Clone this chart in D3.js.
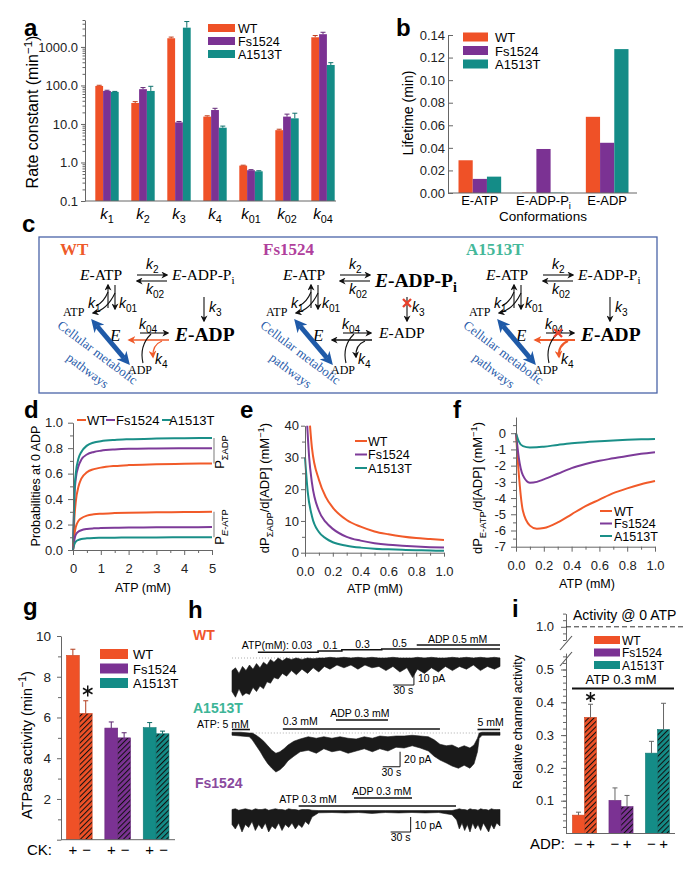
<!DOCTYPE html>
<html>
<head>
<meta charset="utf-8">
<script src="https://cdn.jsdelivr.net/npm/d3@7"></script>
<style>
  body { margin: 0; background: #fff; }
</style>
</head>
<body>
<script>
// ---------------- data ----------------
var strains = ["WT", "Fs1524", "A1513T"];

// a: rate constants (min^-1)
var rateKeys = ["1", "2", "3", "4", "01", "02", "04"];
var rateWT = [97, 35, 1680, 15.5, 0.83, 6.9, 1780];
var rateFs = [72, 80, 11, 23, 0.63, 15.5, 2140];
var rateA = [68, 72, 3160, 8, 0.59, 14, 340];
var rateErrWT = [4, 3, 120, 0.8, 0.02, 0.4, 200];
var rateErrFs = [3, 8, 0.6, 2.5, 0.02, 2.5, 260];
var rateErrA = [2, 23, 1400, 0.8, 0.02, 5, 50];

// b: lifetimes (min)
var conformations = ["E-ATP", "E-ADP-Pi", "E-ADP"];
var lifeWT = [0.029, 0.0003, 0.0675];
var lifeFs = [0.0125, 0.039, 0.0445];
var lifeA = [0.0145, 0.0003, 0.1275];

// d: probabilities at 0 ADP vs ATP (mM)
var atpD = [0, 0.05, 0.1, 0.2, 0.3, 0.5, 0.75, 1, 1.5, 2, 3, 4, 5];
var sumAdpWT = [0, 0.25, 0.38, 0.50, 0.56, 0.61, 0.635, 0.647, 0.66, 0.667, 0.673, 0.677, 0.68];
var sumAdpFs = [0, 0.42, 0.56, 0.66, 0.71, 0.75, 0.77, 0.78, 0.79, 0.795, 0.798, 0.8, 0.8];
var sumAdpA = [0, 0.45, 0.6, 0.72, 0.77, 0.82, 0.845, 0.855, 0.865, 0.87, 0.875, 0.878, 0.88];
var eAtpWT = [0, 0.12, 0.18, 0.23, 0.25, 0.27, 0.28, 0.285, 0.29, 0.293, 0.296, 0.298, 0.3];
var eAtpFs = [0, 0.08, 0.12, 0.145, 0.155, 0.165, 0.17, 0.172, 0.175, 0.177, 0.178, 0.179, 0.18];
var eAtpA = [0, 0.045, 0.065, 0.08, 0.087, 0.092, 0.095, 0.096, 0.097, 0.098, 0.099, 0.1, 0.1];

// e: dP(sum ADP)/d[ADP]
var atpEwt = [0.036, 0.05, 0.1, 0.15, 0.2, 0.3, 0.4, 0.5, 0.6, 0.7, 0.8, 0.9, 1.0];
var dSumWT = [40, 33, 23, 17.5, 14.2, 10.3, 8.2, 6.7, 5.8, 5.1, 4.6, 4.3, 4.0];
var atpEfs = [0.016, 0.03, 0.05, 0.1, 0.15, 0.2, 0.3, 0.4, 0.5, 0.6, 0.7, 0.8, 0.9, 1.0];
var dSumFs = [40, 30, 22, 13.2, 9.6, 7.5, 5.0, 3.8, 3.0, 2.5, 2.2, 1.95, 1.75, 1.6];
var atpEa = [0, 0.02, 0.05, 0.1, 0.15, 0.2, 0.3, 0.4, 0.5, 0.6, 0.7, 0.8, 0.9, 1.0];
var dSumA = [30, 19, 11.5, 6.5, 4.5, 3.3, 2.2, 1.6, 1.25, 1.05, 0.9, 0.78, 0.68, 0.6];

// f: dP(E-ATP)/d[ADP]
var atpF = [0, 0.02, 0.05, 0.1, 0.15, 0.2, 0.3, 0.4, 0.5, 0.6, 0.7, 0.8, 0.9, 1.0];
var dEatpWT = [0, -2.5, -4.8, -5.7, -5.9, -5.85, -5.5, -5.0, -4.5, -4.1, -3.7, -3.4, -3.15, -2.95];
var dEatpFs = [0, -1.5, -2.6, -3.05, -3.0, -2.85, -2.5, -2.15, -1.9, -1.7, -1.55, -1.4, -1.27, -1.17];
var dEatpA = [0, -0.5, -0.8, -0.88, -0.87, -0.83, -0.72, -0.62, -0.55, -0.5, -0.45, -0.41, -0.38, -0.35];

// g: ATPase activity (min^-1), CK + / CK -
var ckPlus = [9.05, 5.48, 5.5];
var ckPlusErr = [0.3, 0.3, 0.25];
var ckMinus = [6.2, 5.0, 5.2];
var ckMinusErr = [0.62, 0.25, 0.13];

// h: current traces, [time s, upper pA, lower pA] relative to the dotted level
var traceWT = [[0,-9,-24],[5,-7,-28],[10,-11,-22],[15,-6,-27],[20,-9,-25],[25,-5,-26],[30,-8,-21],[35,-4,-24],
  [40,-7,-20],[45,-3,-22],[50,-5,-17],[55,-1,-18],[60,-3,-14],[66,0,-15],[72,-2,-11],[78,0,-13],[85,-1,-9],
  [92,0,-12],[100,-1,-8],[108,0,-11],[116,-0.5,-7],[124,0,-10],[132,0,-6],[140,0.5,-8],[150,0,-5],[160,0.5,-7],
  [170,0,-5],[180,0.5,-8],[190,0,-5],[200,0.5,-7],[210,0,-6],[220,0,-9],[230,0.5,-6],[240,0,-10],[250,0,-7],
  [258,0,-14],[265,0.5,-8],[275,0,-11],[285,0.5,-7],[295,0,-10],[305,0,-6],[315,0.5,-9],[325,0,-6],[335,0.5,-8],
  [345,0,-5],[355,0.5,-9],[365,0,-6],[375,0.5,-8],[383,0,-6]];
var traceA = [[0,1,-3],[15,1,-4],[30,0,-5],[35,0,-9],[42,-3,-17],[49,-7,-25],[55,-11,-33],[62,-17,-41],[69,-23,-47],
  [76,-27,-52],[83,-25,-49],[90,-21,-44],[97,-16,-37],[107,-11,-31],[118,-8,-25],[132,-5,-23],[146,-7,-27],
  [159,-5,-21],[173,-7,-25],[187,-5,-23],[201,-7,-27],[215,-8,-24],[229,-5,-21],[243,-7,-25],[256,-4,-21],
  [270,-5,-24],[284,-4,-19],[298,-4,-20],[312,-3,-17],[326,-4,-20],[340,-5,-24],[350,-9,-31],[360,-15,-36],
  [371,-17,-40],[381,-16,-44],[392,-20,-47],[402,-17,-43],[412,-20,-47],[419,-16,-41],[425,-7,-25],
  [428,0,-7],[433,1,-3],[464,1,-3]];
var traceFs = [[0,1,-9],[5,1.5,-12],[10,0.5,-8],[15,1,-14],[20,1.5,-9],[25,1,-11],[30,0.5,-7],[35,1.5,-13],
  [40,1,-9],[45,1,-12],[50,1.5,-8],[55,0.5,-14],[60,1,-10],[65,1.5,-12],[70,1,-8],[75,1,-13],[80,0.5,-9],
  [85,1.5,-11],[90,1,-8],[95,1,-12],[100,0.5,-9],[105,1,-11],[110,1,-7],[115,1,-9],[120,0.5,-4],[130,0.3,-1.2],
  [150,0.3,-1],[170,0.3,-1.3],[190,0.3,-1],[210,0.3,-1.6],[230,0.3,-1],[250,0.3,-1.3],[270,0.3,-1],
  [290,0.3,-1.3],[310,0.3,-1],[330,0.3,-2.5],[337,1,-6],[341,1.5,-12],[345,1,-8],[349,1,-13],[353,0.5,-9],
  [357,1.5,-14],[361,1,-8],[365,1,-12],[369,0.5,-9],[373,1.5,-13],[377,1,-8],[381,1,-11],[385,0.5,-14],
  [389,1.5,-9],[393,1,-12],[397,1,-8],[402,1,-10]];
var wtAtpSteps = [37, 123, 157, 214, 383];   // ATP 0.03, 0.1, 0.3, 0.5 mM
var wtAdpOn = [264, 383];
var aAtp5 = [[0, 31], [425, 464]];
var aAtp03 = [88, 360];
var aAdp = [180, 270];
var fsAtp = [100, 336];
var fsAdp = [183, 270];

// i: relative channel activity, ADP - / ADP +
var adpMinus = [0.056, 0.101, 0.245];
var adpMinusErr = [0.009, 0.038, 0.036];
var adpPlus = [0.354, 0.082, 0.317];
var adpPlusErr = [0.04, 0.034, 0.08];

// ---------------- setup ----------------
var SANS = '"Liberation Sans", Arial, sans-serif';
var SERIF = '"Liberation Serif", "Times New Roman", serif';
var C = ["#ef5127", "#7b3293", "#148c87"];
var CL = ["#f15a29", "#7d3b99", "#1a8f88"];
var AX = "#666";

var svg = d3.select("body").append("svg")
  .attr("width", 690).attr("height", 874)
  .style("font-family", SANS);
var defs = svg.append("defs");

// hatch patterns
C.forEach(function (c, i) {
  var p = defs.append("pattern").attr("id", "hatch" + i)
    .attr("patternUnits", "userSpaceOnUse").attr("width", 3.8).attr("height", 3.8)
    .attr("patternTransform", "rotate(45)");
  p.append("rect").attr("width", 3.8).attr("height", 3.8).attr("fill", c);
  p.append("line").attr("x1", 0.5).attr("y1", 0).attr("x2", 0.5).attr("y2", 3.8)
    .attr("stroke", "#111").attr("stroke-width", 1.1);
});

function marker(id, color, size, refX) {
  defs.append("marker").attr("id", id).attr("viewBox", "0 0 10 10")
    .attr("refX", refX).attr("refY", 5)
    .attr("markerWidth", size).attr("markerHeight", size)
    .attr("markerUnits", "userSpaceOnUse").attr("orient", "auto-start-reverse")
    .append("path").attr("d", "M0,0 L10,5 L0,10 L3,5 Z").attr("fill", color);
}
marker("ah", "#111", 7, 8);
marker("ahO", "#ef5a2a", 8, 8);
marker("ahB", "#1f5aa8", 13, 3);

// text with sub/superscript parts
function txt(g, x, y, fs, parts, o) {
  o = o || {};
  var t = g.append("text").attr("x", x).attr("y", y).style("font-size", fs + "px");
  if (o.serif) t.style("font-family", SERIF);
  if (o.bold) t.style("font-weight", "bold");
  if (o.fill) t.attr("fill", o.fill);
  if (o.anchor) t.attr("text-anchor", o.anchor);
  if (o.rot) t.attr("transform", "rotate(" + o.rot + "," + x + "," + y + ")");
  var shift = 0;
  parts.forEach(function (p) {
    var d = p.sup ? -fs * 0.38 : p.sub ? fs * 0.28 : 0;
    var ts = t.append("tspan").attr("dy", d - shift).text(p.t);
    if (p.sup || p.sub) ts.style("font-size", (fs * 0.72) + "px");
    if (p.it) ts.style("font-style", "italic");
    shift = d;
  });
  return t;
}

function letter(t, x, y) {
  svg.append("text").attr("x", x).attr("y", y)
    .style("font-size", "24px").style("font-weight", "bold").text(t);
}

function styleAxis(sel, fs) {
  sel.select(".domain").attr("stroke", AX);
  sel.selectAll(".tick line").attr("stroke", AX);
  sel.selectAll(".tick text").style("font-size", fs + "px").attr("fill", "#222");
}

function minor(g, tr, axisFn, values, size) {
  g.append("g").attr("transform", tr)
    .call(axisFn.tickValues(values).tickSize(size).tickFormat(""))
    .call(function (s) { s.select(".domain").remove(); s.selectAll("line").attr("stroke", AX); });
}

function hline(g, x1, x2, y, w, col) {
  return g.append("line").attr("x1", x1).attr("x2", x2).attr("y1", y).attr("y2", y)
    .attr("stroke", col || AX).attr("stroke-width", w || 1);
}

function asterisk(g, cx, cy, r) {
  [90, 30, 150].forEach(function (a) {
    var dx = r * Math.cos(a * Math.PI / 180), dy = r * Math.sin(a * Math.PI / 180);
    g.append("line").attr("x1", cx - dx).attr("y1", cy - dy).attr("x2", cx + dx).attr("y2", cy + dy)
      .attr("stroke", "#111").attr("stroke-width", 1.5);
  });
}

function errBar(g, cx, y0, y1, col) {
  g.append("line").attr("x1", cx).attr("x2", cx).attr("y1", y0).attr("y2", y1).attr("stroke", col);
  g.append("line").attr("x1", cx - 2.5).attr("x2", cx + 2.5).attr("y1", y1).attr("y2", y1).attr("stroke", col);
}

// ---------------- a ----------------
letter("a", 24, 36);
var ga = svg.append("g");
var yA = d3.scaleLog().domain([0.1, 5000]).range([201, 20]);
var xA = d3.scaleBand().domain(rateKeys).range([89, 341]).paddingInner(0.35).paddingOuter(0.175);
var xA2 = d3.scaleBand().domain(strains).range([0, xA.bandwidth()]);
[rateWT, rateFs, rateA].forEach(function (vals, si) {
  var errs = [rateErrWT, rateErrFs, rateErrA][si];
  ga.selectAll(null).data(vals).enter().append("rect")
    .attr("x", function (d, i) { return xA(rateKeys[i]) + xA2(strains[si]); })
    .attr("y", function (d) { return yA(d); })
    .attr("width", xA2.bandwidth())
    .attr("height", function (d) { return yA(0.1) - yA(d); })
    .attr("fill", C[si]);
  vals.forEach(function (d, i) {
    var cx = xA(rateKeys[i]) + xA2(strains[si]) + xA2.bandwidth() / 2;
    errBar(ga, cx, yA(d), yA(d + errs[i]), d3.color(C[si]).darker(0.6));
  });
});
var minorA = [];
[0.1, 1, 10, 100, 1000].forEach(function (d) {
  for (var m = 2; m < 10; m++) if (d * m <= 5000) minorA.push(d * m);
});
minor(ga, "translate(85,0)", d3.axisLeft(yA), minorA, 2.5);
ga.append("g").attr("transform", "translate(85,0)")
  .call(d3.axisLeft(yA).tickValues([0.1, 1, 10, 100, 1000]).tickFormat(d3.format(".1f"))
    .tickSize(4).tickSizeOuter(0).tickPadding(3))
  .call(styleAxis, 13);
hline(ga, 85, 336, 201);
rateKeys.forEach(function (k) {
  txt(ga, xA(k) + xA.bandwidth() / 2, 219, 15, [{ t: "k", it: 1 }, { t: k, sub: 1 }], { anchor: "middle" });
});
txt(ga, 38, 112, 16, [{ t: "Rate constant (min" }, { t: "\u22121", sup: 1 }, { t: ")" }],
  { anchor: "middle", rot: -90 });
strains.forEach(function (s, i) {
  var yy = 28 + i * 13;
  ga.append("rect").attr("x", 208).attr("y", yy - 4).attr("width", 27).attr("height", 8).attr("fill", C[i]);
  txt(ga, 238, yy + 4.5, 12.5, [{ t: s }]);
});

// ---------------- b ----------------
letter("b", 396, 36);
var gb = svg.append("g");
var yB = d3.scaleLinear().domain([0, 0.14]).range([193, 35]);
var xB = d3.scaleBand().domain(conformations).range([448, 639]).paddingInner(0.33).paddingOuter(0.165);
var xB2 = d3.scaleBand().domain(strains).range([0, xB.bandwidth()]);
[lifeWT, lifeFs, lifeA].forEach(function (vals, si) {
  gb.selectAll(null).data(vals).enter().append("rect")
    .attr("x", function (d, i) { return xB(conformations[i]) + xB2(strains[si]); })
    .attr("y", function (d) { return yB(d); })
    .attr("width", xB2.bandwidth())
    .attr("height", function (d) { return yB(0) - yB(d); })
    .attr("fill", C[si]);
});
gb.append("g").attr("transform", "translate(448,0)")
  .call(d3.axisLeft(yB).tickValues(d3.range(0, 0.141, 0.02)).tickFormat(d3.format(".2f"))
    .tickSize(-5).tickSizeOuter(0).tickPadding(3))
  .call(styleAxis, 13);
hline(gb, 448, 637, 193);
var bLabels = [[{ t: "E-ATP" }], [{ t: "E-ADP-P" }, { t: "i", sub: 1 }], [{ t: "E-ADP" }]];
conformations.forEach(function (c, i) {
  txt(gb, xB(c) + xB.bandwidth() / 2, 205, 13, bLabels[i], { anchor: "middle" });
});
txt(gb, 543, 221, 13.5, [{ t: "Conformations" }], { anchor: "middle" });
txt(gb, 413, 113, 14, [{ t: "Lifetime (min)" }], { anchor: "middle", rot: -90 });
strains.forEach(function (s, i) {
  var yy = 37 + i * 13.5;
  gb.append("rect").attr("x", 463).attr("y", yy - 4.5).attr("width", 25).attr("height", 9).attr("fill", C[i]);
  txt(gb, 495, yy + 5, 13, [{ t: s }]);
});

// ---------------- c (scheme) ----------------
letter("c", 22, 232);
var gc = svg.append("g");
gc.append("rect").attr("x", 39).attr("y", 237).attr("width", 618).attr("height", 156)
  .attr("fill", "none").attr("stroke", "#4a64a8").attr("stroke-width", 1.3);
var schemeCols = ["#ee5a2a", "#b0409c", "#45b89a"];
var ORANGE = "#ef5a2a";

function arrow(g, x1, y1, x2, y2, col, w) {
  return g.append("line").attr("x1", x1).attr("y1", y1).attr("x2", x2).attr("y2", y2)
    .attr("stroke", col || "#111").attr("stroke-width", w || 1.1)
    .attr("marker-end", col === ORANGE ? "url(#ahO)" : "url(#ah)");
}
function kLab(g, x, y, sub) {
  txt(g, x, y, 14, [{ t: "k", it: 1 }, { t: sub, sub: 1 }]);
}
function cross(g, cx, cy) {
  [[-4, -4, 4, 4], [-4, 4, 4, -4]].forEach(function (p) {
    g.append("line").attr("x1", cx + p[0]).attr("y1", cy + p[1]).attr("x2", cx + p[2]).attr("y2", cy + p[3])
      .attr("stroke", "#e8402a").attr("stroke-width", 2.3);
  });
}
function scheme(ox, v) {
  var g = gc.append("g").attr("transform", "translate(" + ox + ",0)");
  txt(g, 60, 255, 17, [{ t: strains[v] }], { serif: 1, bold: 1, fill: schemeCols[v] });
  txt(g, 80, 280, 15.5, [{ t: "E", it: 1 }, { t: "-ATP" }], { serif: 1 });
  arrow(g, 137, 275, 167, 275);
  arrow(g, 167, 281, 137, 281);
  kLab(g, 146, 269, "2");
  kLab(g, 146, 294, "02");
  if (v === 1) txt(g, 172, 287, 19.5, [{ t: "E", it: 1 }, { t: "-ADP-P" }, { t: "i", sub: 1 }], { serif: 1, bold: 1 });
  else txt(g, 172, 280, 15.5, [{ t: "E", it: 1 }, { t: "-ADP-P" }, { t: "i", sub: 1 }], { serif: 1 });
  arrow(g, 204, 297, 204, 321);
  kLab(g, 209, 312, "3");
  if (v === 1) cross(g, 204, 303);
  if (v === 1) txt(g, 176, 338, 15.5, [{ t: "E", it: 1 }, { t: "-ADP" }], { serif: 1 });
  else txt(g, 175, 341, 19.5, [{ t: "E", it: 1 }, { t: "-ADP" }], { serif: 1, bold: 1 });
  txt(g, 110, 341, 17, [{ t: "E", it: 1 }], { serif: 1 });
  arrow(g, 140, 333, 168, 333);
  kLab(g, 139, 329, "04");
  var rev = v === 1 ? "#111" : ORANGE;
  var rw = v === 2 ? 2.2 : 1.3;
  arrow(g, 169, 340, 129, 340, rev, rw);
  g.append("path").attr("d", "M143,363 Q139,346 151,334").attr("fill", "none")
    .attr("stroke", "#111").attr("stroke-width", 1.1);
  g.append("path").attr("d", "M162,341 Q152,345 153,357").attr("fill", "none")
    .attr("stroke", rev).attr("stroke-width", rw)
    .attr("marker-end", rev === ORANGE ? "url(#ahO)" : "url(#ah)");
  kLab(g, 155, 364, "4");
  if (v === 2) cross(g, 152, 333);
  arrow(g, 108, 308, 108, 285);
  arrow(g, 115, 285, 115, 309);
  g.append("path").attr("d", "M115,293 Q107,310 93,313").attr("fill", "none")
    .attr("stroke", "#111").attr("stroke-width", 1.1).attr("marker-end", "url(#ah)");
  g.append("path").attr("d", "M96,306 Q104,302 108,292").attr("fill", "none")
    .attr("stroke", "#111").attr("stroke-width", 1.1);
  kLab(g, 88, 308, "1");
  kLab(g, 119, 308, "01");
  txt(g, 63, 316, 12, [{ t: "ATP" }], { serif: 1 });
  txt(g, 128, 374, 12, [{ t: "ADP" }], { serif: 1 });
  g.append("line").attr("x1", 97).attr("y1", 326).attr("x2", 124).attr("y2", 358)
    .attr("stroke", "#1f5aa8").attr("stroke-width", 5)
    .attr("marker-start", "url(#ahB)").attr("marker-end", "url(#ahB)");
  txt(g, 95, 356, 13, [{ t: "Cellular metabolic" }], { serif: 1, anchor: "middle", rot: 37, fill: "#2a5caa" });
  txt(g, 85, 374, 13, [{ t: "pathways" }], { serif: 1, anchor: "middle", rot: 37, fill: "#2a5caa" });
}
scheme(0, 0);
scheme(203, 1);
scheme(406, 2);

// ---------------- d ----------------
letter("d", 24, 418);
var gd = svg.append("g");
var xD = d3.scaleLinear().domain([0, 5]).range([73, 212]);
var yD = d3.scaleLinear().domain([0, 1]).range([550, 422.7]);
var lineD = d3.line().x(function (d, i) { return xD(atpD[i]); }).y(function (d) { return yD(d); })
  .curve(d3.curveMonotoneX);
[[sumAdpWT, 0], [sumAdpFs, 1], [sumAdpA, 2], [eAtpWT, 0], [eAtpFs, 1], [eAtpA, 2]].forEach(function (s) {
  gd.append("path").attr("d", lineD(s[0])).attr("fill", "none").attr("stroke", CL[s[1]]).attr("stroke-width", 2);
});
minor(gd, "translate(73,0)", d3.axisLeft(yD), d3.range(0.1, 1, 0.2), 3);
minor(gd, "translate(0,550)", d3.axisBottom(xD), d3.range(0.5, 5, 1), 3);
gd.append("g").attr("transform", "translate(73,0)")
  .call(d3.axisLeft(yD).tickValues(d3.range(0, 1.01, 0.2)).tickFormat(d3.format(".1f"))
    .tickSize(5).tickSizeOuter(0).tickPadding(5))
  .call(styleAxis, 13);
gd.append("g").attr("transform", "translate(0,550)")
  .call(d3.axisBottom(xD).ticks(5).tickFormat(d3.format("d")).tickSize(5).tickSizeOuter(0).tickPadding(9))
  .call(styleAxis, 13);
txt(gd, 143, 592, 12.5, [{ t: "ATP (mM)" }], { anchor: "middle" });
txt(gd, 40, 486, 12.5, [{ t: "Probabilities at 0 ADP" }], { anchor: "middle", rot: -90 });
var legD = [[77, 87], [106, 116], [162, 169]];
strains.forEach(function (s, i) {
  gd.append("line").attr("x1", legD[i][0]).attr("x2", legD[i][0] + 9).attr("y1", 420).attr("y2", 420)
    .attr("stroke", CL[i]).attr("stroke-width", 2);
  txt(gd, legD[i][1], 425, 13, [{ t: s }]);
});
gd.append("line").attr("x1", 214).attr("x2", 214).attr("y1", yD(sumAdpA[12])).attr("y2", yD(sumAdpWT[12]))
  .attr("stroke", "#999").attr("stroke-width", 1.3);
gd.append("line").attr("x1", 214).attr("x2", 214).attr("y1", yD(eAtpWT[12])).attr("y2", yD(eAtpA[12]))
  .attr("stroke", "#999").attr("stroke-width", 1.3);
txt(gd, 224, 452, 13, [{ t: "P" }, { t: "\u03A3ADP", sub: 1 }], { anchor: "middle", rot: -90 });
txt(gd, 224, 527, 13, [{ t: "P" }, { t: "E", sub: 1, it: 1 }, { t: "-ATP", sub: 1 }], { anchor: "middle", rot: -90 });

// ---------------- e ----------------
letter("e", 240, 418);
var ge = svg.append("g");
var xE = d3.scaleLinear().domain([0, 1]).range([305, 444]);
var yE = d3.scaleLinear().domain([0, 40]).range([552.7, 425.7]);
[[atpEwt, dSumWT, 0], [atpEfs, dSumFs, 1], [atpEa, dSumA, 2]].forEach(function (s) {
  var ln = d3.line().x(function (d, i) { return xE(s[0][i]); }).y(function (d) { return yE(d); })
    .curve(d3.curveMonotoneX);
  ge.append("path").attr("d", ln(s[1])).attr("fill", "none").attr("stroke", CL[s[2]]).attr("stroke-width", 2);
});
minor(ge, "translate(305,0)", d3.axisLeft(yE), [5, 15, 25, 35], 3);
minor(ge, "translate(0,552.7)", d3.axisBottom(xE), d3.range(0.1, 1, 0.2), 3);
ge.append("g").attr("transform", "translate(305,0)")
  .call(d3.axisLeft(yE).tickValues([0, 10, 20, 30, 40]).tickSize(4).tickSizeOuter(0).tickPadding(2))
  .call(styleAxis, 13);
ge.append("g").attr("transform", "translate(0,552.7)")
  .call(d3.axisBottom(xE).tickValues(d3.range(0, 1.01, 0.2)).tickFormat(d3.format(".1f"))
    .tickSize(4).tickSizeOuter(0).tickPadding(10))
  .call(styleAxis, 13);
txt(ge, 375, 593, 12.5, [{ t: "ATP (mM)" }], { anchor: "middle" });
txt(ge, 269, 488, 13, [{ t: "dP" }, { t: "\u03A3ADP", sub: 1 }, { t: "/d[ADP] (mM" }, { t: "\u22121", sup: 1 }, { t: ")" }],
  { anchor: "middle", rot: -90 });
strains.forEach(function (s, i) {
  var yy = 441 + i * 13.5;
  ge.append("line").attr("x1", 355).attr("x2", 367).attr("y1", yy).attr("y2", yy)
    .attr("stroke", CL[i]).attr("stroke-width", 2);
  txt(ge, 368, yy + 4.5, 12.5, [{ t: s }]);
});

// ---------------- f ----------------
letter("f", 453, 418);
var gf = svg.append("g");
var xF = d3.scaleLinear().domain([0, 1]).range([516, 655]);
var yF = d3.scaleLinear().domain([-7, 1]).range([546.7, 417]);
var lineF = d3.line().x(function (d, i) { return xF(atpF[i]); }).y(function (d) { return yF(d); })
  .curve(d3.curveMonotoneX);
[[dEatpWT, 0], [dEatpFs, 1], [dEatpA, 2]].forEach(function (s) {
  gf.append("path").attr("d", lineF(s[0])).attr("fill", "none").attr("stroke", CL[s[1]]).attr("stroke-width", 2);
});
minor(gf, "translate(516,0)", d3.axisLeft(yF), d3.range(-6.5, 1.01, 1), 3);
minor(gf, "translate(0,546.7)", d3.axisBottom(xF), d3.range(0.1, 1, 0.2), 3);
gf.append("g").attr("transform", "translate(516,0)")
  .call(d3.axisLeft(yF).tickValues(d3.range(-7, 0.5, 1)).tickFormat(function (d) { return String(d); })
    .tickSize(5).tickSizeOuter(0).tickPadding(5))
  .call(styleAxis, 13);
gf.append("g").attr("transform", "translate(0,546.7)")
  .call(d3.axisBottom(xF).tickValues(d3.range(0, 1.01, 0.2)).tickFormat(d3.format(".1f"))
    .tickSize(5).tickSizeOuter(0).tickPadding(9))
  .call(styleAxis, 13);
txt(gf, 587, 588, 12.5, [{ t: "ATP (mM)" }], { anchor: "middle" });
txt(gf, 482, 488, 13, [{ t: "dP" }, { t: "E-ATP", sub: 1 }, { t: "/d[ADP] (mM" }, { t: "\u22121", sup: 1 }, { t: ")" }],
  { anchor: "middle", rot: -90 });
strains.forEach(function (s, i) {
  var yy = 511 + i * 12.5;
  gf.append("line").attr("x1", 600).attr("x2", 612).attr("y1", yy).attr("y2", yy)
    .attr("stroke", CL[i]).attr("stroke-width", 2);
  txt(gf, 614, yy + 4.5, 12.5, [{ t: s }]);
});

// ---------------- g ----------------
letter("g", 23, 615);
var gg = svg.append("g");
var yG = d3.scaleLinear().domain([0, 10]).range([839.7, 636]);
var xG = d3.scaleBand().domain(strains).range([60.1, 175.3]).paddingInner(0.33).paddingOuter(0.165);
var xG2 = d3.scaleBand().domain(["+", "-"]).range([0, xG.bandwidth()]);
[[ckPlus, ckPlusErr, "+"], [ckMinus, ckMinusErr, "-"]].forEach(function (s) {
  s[0].forEach(function (d, i) {
    var x = xG(strains[i]) + xG2(s[2]);
    gg.append("rect").attr("x", x).attr("y", yG(d)).attr("width", xG2.bandwidth())
      .attr("height", yG(0) - yG(d))
      .attr("fill", s[2] === "+" ? C[i] : "url(#hatch" + i + ")")
      .attr("stroke", d3.color(C[i]).darker(0.4)).attr("stroke-width", 0.6);
    errBar(gg, x + xG2.bandwidth() / 2, yG(d), yG(d + s[1][i]), d3.color(C[i]).darker(0.8));
  });
});
minor(gg, "translate(61,0)", d3.axisLeft(yG), d3.range(1, 10, 2), 3);
gg.append("g").attr("transform", "translate(61,0)")
  .call(d3.axisLeft(yG).tickValues(d3.range(0, 10.1, 2)).tickFormat(function (d) { return d ? d : ""; })
    .tickSize(4).tickSizeOuter(0).tickPadding(6))
  .call(styleAxis, 13.5);
hline(gg, 61, 175, 839.7);
asterisk(gg, xG("WT") + xG2("-") + xG2.bandwidth() / 2 + 2, 691, 5.5);
txt(gg, 32, 745, 14.5, [{ t: "ATPase activity (min" }, { t: "\u22121", sup: 1 }, { t: ")" }], { anchor: "middle", rot: -90 });
txt(gg, 27, 855, 15, [{ t: "CK:" }]);
strains.forEach(function (s, i) {
  txt(gg, xG(s) + xG2("+") + xG2.bandwidth() / 2, 855, 15, [{ t: "+" }], { anchor: "middle" });
  txt(gg, xG(s) + xG2("-") + xG2.bandwidth() / 2 + 1, 855, 15, [{ t: "\u2212" }], { anchor: "middle" });
  var yy = 654 + i * 14.5;
  gg.append("rect").attr("x", 100).attr("y", yy - 5).attr("width", 28).attr("height", 10).attr("fill", C[i]);
  txt(gg, 133, yy + 5, 13, [{ t: s }]);
});

// ---------------- h (traces) ----------------
letter("h", 188, 618);
var gh = svg.append("g");
txt(gh, 193, 640, 14, [{ t: "WT" }], { bold: 1, fill: "#f0562a" });
txt(gh, 193, 713, 14, [{ t: "A1513T" }], { bold: 1, fill: "#3db597" });
txt(gh, 195, 788, 14, [{ t: "Fs1524" }], { bold: 1, fill: "#8a4a9e" });

function traceScales(dur, base, pxPerPa) {
  return {
    x: d3.scaleLinear().domain([0, dur]).range([232, 500]),
    y: d3.scaleLinear().domain([0, -10]).range([base, base + 10 * pxPerPa])
  };
}
function drawTrace(data, sc) {
  var area = d3.area().x(function (d) { return sc.x(d[0]); })
    .y0(function (d) { return sc.y(d[1]); }).y1(function (d) { return sc.y(d[2]); });
  gh.append("path").attr("d", area(data)).attr("fill", "#1a1a1a").attr("stroke", "#1a1a1a").attr("stroke-width", 0.6);
}
function dotted(sc, t0, t1) {
  gh.append("line").attr("x1", sc.x(t0)).attr("x2", sc.x(t1)).attr("y1", sc.y(0)).attr("y2", sc.y(0))
    .attr("stroke", "#999").attr("stroke-width", 0.8).attr("stroke-dasharray", "1,2");
}
function scaleBar(sc, t, pa, amp, labA) {
  var x1 = sc.x(t), x0 = sc.x(t - 30), y1 = sc.y(pa), y0 = sc.y(pa + amp);
  gh.append("path").attr("d", "M" + x0 + "," + y1 + "H" + x1 + "V" + y0)
    .attr("fill", "none").attr("stroke", "#111").attr("stroke-width", 1);
  txt(gh, x1 + 4, (y0 + y1) / 2 + 4, 10.5, [{ t: labA }]);
  txt(gh, (x0 + x1) / 2, y1 + 9, 10.5, [{ t: "30 s" }], { anchor: "middle" });
}
function stim(sc, t0, t1, y) {
  hline(gh, sc.x(t0), sc.x(t1), y, 1.6, "#111");
}

// WT
var sW = traceScales(383, 658, 1.4);
dotted(sW, 0, 383);
drawTrace(traceWT, sW);
var wtLev = [652.3, 651, 649.7, 649];
var stair = "M" + sW.x(wtAtpSteps[0]) + "," + wtLev[0];
for (var si = 1; si < wtAtpSteps.length; si++) {
  stair += "H" + sW.x(wtAtpSteps[si]);
  if (si < wtLev.length) stair += "V" + wtLev[si];
}
gh.append("path").attr("d", stair).attr("fill", "none").attr("stroke", "#111").attr("stroke-width", 1.6);
stim(sW, wtAdpOn[0], wtAdpOn[1], 645);
txt(gh, sW.x(14), 649, 10.5, [{ t: "ATP(mM): 0.03" }]);
txt(gh, sW.x(130), 648.5, 10.5, [{ t: "0.1" }]);
txt(gh, sW.x(176), 647.5, 10.5, [{ t: "0.3" }]);
txt(gh, sW.x(229), 646.5, 10.5, [{ t: "0.5" }]);
txt(gh, sW.x(280), 643, 10.5, [{ t: "ADP 0.5 mM" }]);
scaleBar(sW, 260, -19.3, 10, "10 pA");

// A1513T
var sA = traceScales(464, 733, 0.75);
dotted(sA, 36, 464);
drawTrace(traceA, sA);
aAtp5.forEach(function (r) { stim(sA, r[0], r[1], 729.5); });
stim(sA, aAtp03[0], aAtp03[1], 729);
stim(sA, aAdp[0], aAdp[1], 720);
txt(gh, 197, 727.5, 10.5, [{ t: "ATP: 5 mM" }]);
txt(gh, sA.x(88), 725, 10.5, [{ t: "0.3 mM" }]);
txt(gh, sA.x(170), 717, 10.5, [{ t: "ADP 0.3 mM" }]);
txt(gh, sA.x(425), 726, 10.5, [{ t: "5 mM" }]);
scaleBar(sA, 291, -45, 20, "20 pA");

// Fs1524
var sF = traceScales(402, 811, 1.5);
drawTrace(traceFs, sF);
stim(sF, fsAtp[0], fsAtp[1], 806);
stim(sF, fsAdp[0], fsAdp[1], 798);
txt(gh, sF.x(71), 803, 10.5, [{ t: "ATP 0.3 mM" }]);
txt(gh, sF.x(180), 795, 10.5, [{ t: "ADP 0.3 mM" }]);
scaleBar(sF, 268, -14, 10, "10 pA");

// ---------------- i ----------------
letter("i", 512, 617);
var gi = svg.append("g");
var yI = d3.scaleLinear().domain([0, 0.55]).range([833.5, 653.1]);
var yI2 = d3.scaleLinear().domain([0.96, 1.04]).range([640, 613.6]);
var xI = d3.scaleBand().domain(strains).range([566.25, 675.75]).paddingInner(0.34).paddingOuter(0.17);
var xI2 = d3.scaleBand().domain(["-", "+"]).range([0, xI.bandwidth()]);
[[adpMinus, adpMinusErr, "-"], [adpPlus, adpPlusErr, "+"]].forEach(function (s) {
  s[0].forEach(function (d, i) {
    var x = xI(strains[i]) + xI2(s[2]);
    gi.append("rect").attr("x", x).attr("y", yI(d)).attr("width", xI2.bandwidth())
      .attr("height", yI(0) - yI(d))
      .attr("fill", s[2] === "-" ? C[i] : "url(#hatch" + i + ")")
      .attr("stroke", d3.color(C[i]).darker(0.4)).attr("stroke-width", 0.6);
    errBar(gi, x + xI2.bandwidth() / 2, yI(d), yI(d + s[1][i]), "#666");
  });
});
minor(gi, "translate(566,0)", d3.axisLeft(yI), d3.range(0.02, 0.55, 0.02), 3);
minor(gi, "translate(566,0)", d3.axisLeft(yI2), [0.96, 0.98, 1.02, 1.04], 3);
gi.append("g").attr("transform", "translate(566,0)")
  .call(d3.axisLeft(yI).tickValues([0.1, 0.2, 0.3, 0.4, 0.5]).tickFormat(d3.format(".1f"))
    .tickSize(5).tickSizeOuter(0).tickPadding(7))
  .call(styleAxis, 13);
gi.append("g").attr("transform", "translate(566,0)")
  .call(d3.axisLeft(yI2).tickValues([1.0]).tickFormat(d3.format(".1f"))
    .tickSize(5).tickSizeOuter(0).tickPadding(7))
  .call(styleAxis, 13);
hline(gi, 566, 675, 833.5);
[[650, 636], [666, 652]].forEach(function (p) {
  gi.append("line").attr("x1", 560).attr("y1", p[0]).attr("x2", 572).attr("y2", p[1])
    .attr("stroke", "#555").attr("stroke-width", 1.1);
});
gi.append("line").attr("x1", 566).attr("x2", 686).attr("y1", yI2(1)).attr("y2", yI2(1))
  .attr("stroke", "#333").attr("stroke-dasharray", "5,3");
txt(gi, 573, 620, 14, [{ t: "Activity @ 0 ATP" }]);
hline(gi, 572, 674, 688.5, 2, "#111");
txt(gi, 621, 684, 13, [{ t: "ATP 0.3 mM" }], { anchor: "middle" });
asterisk(gi, xI("WT") + xI2("+") + xI2.bandwidth() / 2, 697, 5);
txt(gi, 522, 722, 12.5, [{ t: "Relative channel activity" }], { anchor: "middle", rot: -90 });
txt(gi, 530, 849, 15, [{ t: "ADP:" }]);
strains.forEach(function (s, i) {
  txt(gi, xI(s) + xI2("-") + xI2.bandwidth() / 2, 849, 15, [{ t: "\u2212" }], { anchor: "middle" });
  txt(gi, xI(s) + xI2("+") + xI2.bandwidth() / 2, 849, 15, [{ t: "+" }], { anchor: "middle" });
  var yy = 640 + i * 12.5;
  gi.append("rect").attr("x", 594).attr("y", yy - 4).attr("width", 26).attr("height", 8).attr("fill", C[i]);
  txt(gi, 622, yy + 4.5, 12, [{ t: s }]);
});
</script>
</body>
</html>
